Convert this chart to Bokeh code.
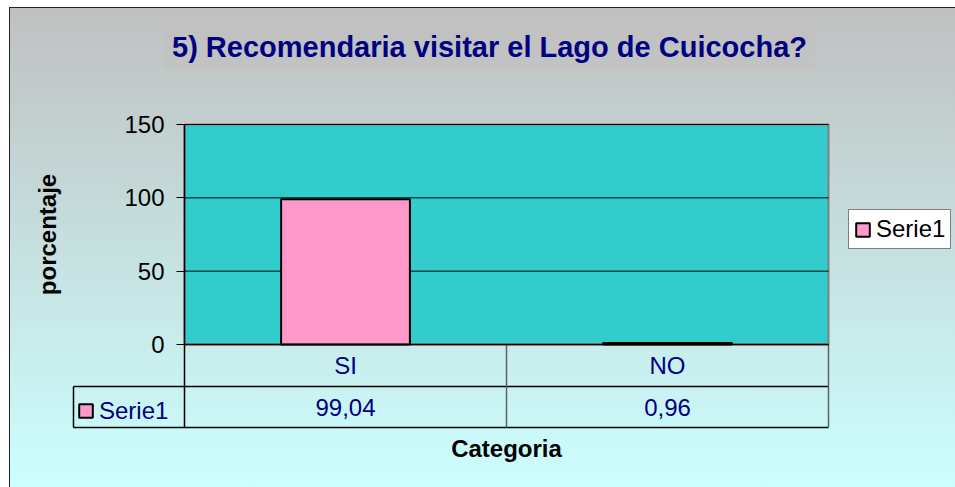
from bokeh.plotting import figure
from bokeh.models import (Range1d, Legend, LegendItem, Label, FixedTicker,
                          ColumnDataSource)
from bokeh.core.properties import value
from bokeh.embed import file_html
from bokeh.resources import INLINE

# ---- data ----
categories = ["SI", "NO"]
values = [99.04, 0.96]
series_name = "Serie1"
y_ticks = [0, 50, 100, 150]
title_text = "5) Recomendaria visitar el Lago de Cuicocha?"
x_title = "Categoria"
y_title = "porcentaje"

FONT = "Liberation Sans"
NAVY = "#000080"

# ---- layout constants (pixels inside the figure) ----
W, H = 946, 480
PLOT_L, PLOT_T, PLOT_W, PLOT_H = 175, 117, 644, 220
ROW_H1, ROW_H2, KEY_W = 42, 41, 111

n = len(categories)
ymax = y_ticks[-1]
ppx = PLOT_W / n           # pixels per category
ppy = PLOT_H / ymax        # pixels per y unit
x_start = -PLOT_L / ppx
y_start = -(H - PLOT_T - PLOT_H) / ppy

centers = [i + 0.5 for i in range(n)]
bounds = list(range(n + 1))
value_text = [f"{v:.2f}".replace(".", ",") for v in values]
y_r1 = -ROW_H1 / ppy
y_r2 = -(ROW_H1 + ROW_H2) / ppy
x_key = -KEY_W / ppx

source = ColumnDataSource(dict(x=centers, cat=categories, val=values))

p = figure(width=W, height=H,
           x_range=Range1d(x_start, x_start + W / ppx),
           y_range=Range1d(y_start, y_start + H / ppy),
           output_backend="svg", toolbar_location=None,
           min_border=0, min_border_left=0, min_border_right=0,
           min_border_top=0, min_border_bottom=0)
p.title_location = None
p.margin = (7, 0, 0, 9)
p.border_fill_color = None
p.background_fill_color = None
p.outline_line_color = None
p.styles = {"background": "linear-gradient(to bottom, #C0C0C0 0%, #CCFFFF 100%)",
            "box-shadow": "inset 1px 1px 0 0 #222"}
p.grid.grid_line_color = None

# plot area
p.quad(left=[0], right=[n], bottom=[0], top=[ymax],
       fill_color="#33CCCC", line_color="#808080", line_width=2)
# horizontal gridlines at the y ticks
p.segment(x0=[0] * len(y_ticks), x1=[n] * len(y_ticks), y0=y_ticks, y1=y_ticks,
          line_color="black", line_width=1)

# bars
r = p.vbar(x="x", top="val", width=0.4, source=source,
           fill_color="#FF99CC", line_color="black", line_width=2)

# data table lines
p.segment(x0=[x_key, x_key], x1=[n, n], y0=[y_r1, y_r2], y1=[y_r1, y_r2],
          line_color="black", line_width=1.5)
p.segment(x0=[x_key], x1=[x_key], y0=[y_r1], y1=[y_r2],
          line_color="black", line_width=1.5)
p.segment(x0=bounds, x1=bounds, y0=[0] * len(bounds), y1=[y_r2] * len(bounds),
          line_color=["black"] + ["#606060"] * n, line_width=1.5)

# values row of data table
p.text(x=centers, y=[(y_r1 + y_r2) / 2] * n, text=value_text,
       text_align="center", text_baseline="middle",
       text_font=value(FONT), text_font_size="24px", text_color=NAVY)

# y axis
p.yaxis.fixed_location = 0
p.yaxis.bounds = (0, ymax)
p.yaxis.ticker = FixedTicker(ticks=y_ticks)
p.yaxis.axis_line_color = "black"
p.yaxis.axis_line_width = 1.5
p.yaxis.major_tick_out = 8
p.yaxis.major_tick_in = 0
p.yaxis.minor_tick_line_color = None
p.yaxis.major_label_standoff = 12
p.yaxis.major_label_text_font = FONT
p.yaxis.major_label_text_font_size = "24px"
p.yaxis.major_label_text_color = "black"
p.yaxis.axis_label = y_title
p.yaxis.axis_label_text_font = FONT
p.yaxis.axis_label_text_font_style = "bold"
p.yaxis.axis_label_text_font_size = "24px"
p.yaxis.axis_label_text_color = "black"
p.yaxis.axis_label_standoff = 60

# x axis
p.xaxis.fixed_location = 0
p.xaxis.bounds = (0, n)
p.xaxis.ticker = FixedTicker(ticks=centers)
p.xaxis.major_label_overrides = {c: t for c, t in zip(centers, categories)}
p.xaxis.axis_line_color = "black"
p.xaxis.axis_line_width = 1.5
p.xaxis.major_tick_line_color = None
p.xaxis.minor_tick_line_color = None
p.xaxis.major_tick_out = 0
p.xaxis.major_tick_in = 0
p.xaxis.major_label_standoff = 7
p.xaxis.major_label_text_font = FONT
p.xaxis.major_label_text_font_size = "24px"
p.xaxis.major_label_text_color = NAVY
p.xaxis.axis_label = x_title
p.xaxis.axis_label_text_font = FONT
p.xaxis.axis_label_text_font_style = "bold"
p.xaxis.axis_label_text_font_size = "24px"
p.xaxis.axis_label_text_color = "black"
p.xaxis.axis_label_standoff = 53

# title
p.add_layout(Label(x=(480 - PLOT_L) / ppx, y=(PLOT_T + PLOT_H - 39) / ppy,
                   x_units="data", y_units="data",
                   text=title_text, text_align="center", text_baseline="middle",
                   text_font=FONT, text_font_size="29px", text_font_style="bold",
                   text_color=NAVY, background_fill_color="#C4BEBE",
                   background_fill_alpha=0.35, padding=8))

# legend (right of plot area)
leg = Legend(items=[LegendItem(label=series_name, renderers=[r])],
             location=(839, 238), border_line_color="black", border_line_width=1,
             background_fill_color="white", background_fill_alpha=1,
             label_text_font=FONT, label_text_font_size="24px",
             label_text_color="black", glyph_width=17, glyph_height=17,
             padding=5, margin=0, spacing=0, label_standoff=5)
p.add_layout(leg)

# legend key in the data table
key = Legend(items=[LegendItem(label=series_name, renderers=[r])],
             location=(68, 61), border_line_color=None,
             background_fill_color=None, background_fill_alpha=0,
             label_text_font=FONT, label_text_font_size="24px",
             label_text_color=NAVY, glyph_width=17, glyph_height=17,
             label_width=79, label_height=31,
             padding=5, margin=0, spacing=0, label_standoff=5)
p.add_layout(key)

open("out.html", "w").write(file_html(p, INLINE))
